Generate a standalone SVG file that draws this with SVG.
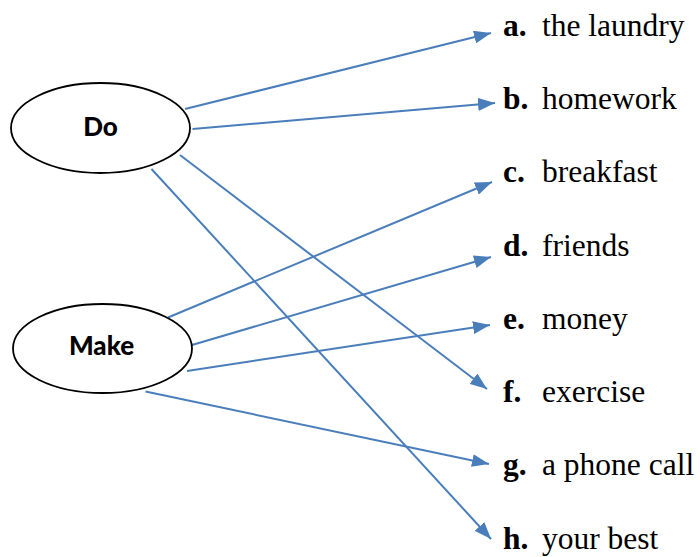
<svg xmlns="http://www.w3.org/2000/svg" width="700" height="557" viewBox="0 0 700 557">
  <style>
    .verb { fill: #ffffff; stroke: #000000; stroke-width: 1.8; }
    .verb-text { font-family: Lato, "Liberation Sans", sans-serif; font-weight: 900; font-size: 26px; fill: #000000; text-anchor: middle; }
    .key { font-family: "Liberation Serif", "Times New Roman", serif; font-weight: bold; font-size: 31.5px; fill: #000000; }
    .item { font-family: "Liberation Serif", "Times New Roman", serif; font-size: 31.5px; fill: #000000; }
    .link { stroke: #4a7ebb; stroke-width: 2; fill: none; marker-end: url(#arrow); }
  </style>
  <defs>
    <marker id="arrow" markerUnits="userSpaceOnUse" markerWidth="18" markerHeight="13" refX="17" refY="6.5" orient="auto">
      <path d="M0,0 L17,6.5 L0,13 z" fill="#4a7ebb"/>
    </marker>
  </defs>
  <rect width="700" height="557" fill="#ffffff"/>

  <!-- connectors -->
  <g id="connectors">
    <line class="link" x1="185" y1="109" x2="491" y2="33"/>
    <line class="link" x1="192.5" y1="129" x2="495" y2="103"/>
    <line class="link" x1="168" y1="317.5" x2="492" y2="182"/>
    <line class="link" x1="192" y1="345" x2="491" y2="257"/>
    <line class="link" x1="187" y1="371" x2="490" y2="325"/>
    <line class="link" x1="180" y1="155" x2="487" y2="389"/>
    <line class="link" x1="145.5" y1="391.5" x2="489" y2="464"/>
    <line class="link" x1="151.5" y1="169" x2="491" y2="539"/>
  </g>

  <!-- verb nodes -->
  <g id="node-do">
    <ellipse class="verb" cx="100.5" cy="128" rx="89.5" ry="45"/>
    <text class="verb-text" x="100.5" y="136">Do</text>
  </g>
  <g id="node-make">
    <ellipse class="verb" cx="102.5" cy="348.5" rx="89.5" ry="44.5"/>
    <text class="verb-text" x="101.5" y="355">Make</text>
  </g>

  <!-- collocation items -->
  <g id="item-a"><text class="key" x="503" y="36">a.</text><text class="item" x="542" y="36">the laundry</text></g>
  <g id="item-b"><text class="key" x="503" y="109">b.</text><text class="item" x="542" y="109">homework</text></g>
  <g id="item-c"><text class="key" x="503" y="182">c.</text><text class="item" x="542" y="182">breakfast</text></g>
  <g id="item-d"><text class="key" x="503" y="256">d.</text><text class="item" x="542" y="256">friends</text></g>
  <g id="item-e"><text class="key" x="503" y="329">e.</text><text class="item" x="542" y="329">money</text></g>
  <g id="item-f"><text class="key" x="503" y="402">f.</text><text class="item" x="542" y="402">exercise</text></g>
  <g id="item-g"><text class="key" x="503" y="475">g.</text><text class="item" x="542" y="475">a phone call</text></g>
  <g id="item-h"><text class="key" x="503" y="549">h.</text><text class="item" x="542" y="549">your best</text></g>
</svg>
